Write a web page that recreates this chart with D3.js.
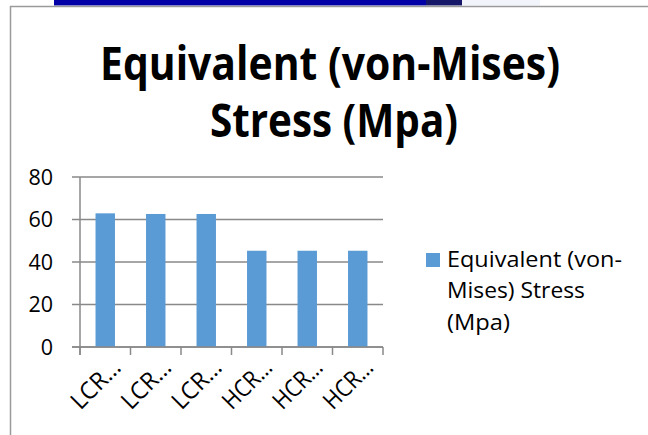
<!DOCTYPE html>
<html>
<head>
<meta charset="utf-8">
<script src="https://cdn.jsdelivr.net/npm/d3@7"></script>
<style>
  html, body { margin: 0; padding: 0; background: #fff; }
  svg { display: block; }
  text { font-family: "Open Sans", "Noto Sans", sans-serif; fill: #000; }
</style>
</head>
<body>
<svg id="chart" width="648" height="435"></svg>
<script>
// ---- data ----
const categories = ["LCR…", "LCR…", "LCR…", "HCR…", "HCR…", "HCR…"];
const stressValues = [62.9, 62.6, 62.6, 45.3, 45.3, 45.3];
const yTicks = [0, 20, 40, 60, 80];
const seriesName = "Equivalent (von-Mises) Stress (Mpa)";
const titleLines = ["Equivalent (von-Mises)", "Stress (Mpa)"];
const legendLines = ["Equivalent (von-", "Mises) Stress", "(Mpa)"];

const svg = d3.select("#chart");
const W = 648, H = 435;
const barColor = "#5B9BD5";
const gridColor = "#898989";

// decorative slide fragments at top
svg.append("rect").attr("x", 54).attr("y", 0).attr("width", 372).attr("height", 5.5).attr("fill", "#0000A6");
svg.append("rect").attr("x", 426).attr("y", 0).attr("width", 36).attr("height", 5.5).attr("fill", "#17176a");
svg.append("rect").attr("x", 462).attr("y", 0).attr("width", 78).attr("height", 5.5).attr("fill", "#f2f4fb");
// chart frame
svg.append("line").attr("x1", 10).attr("x2", W).attr("y1", 6.5).attr("y2", 6.5)
  .attr("stroke", "#9a9a9a").attr("stroke-width", 1.5);
svg.append("line").attr("x1", 10.5).attr("x2", 10.5).attr("y1", 6).attr("y2", H)
  .attr("stroke", "#9a9a9a").attr("stroke-width", 1.5);

// title
const titleG = svg.append("g");
const titlePos = [{x: 100, y: 80, len: 460}, {x: 210, y: 137, len: 248}];
titleLines.forEach((t, i) => {
  titleG.append("text")
    .attr("x", titlePos[i].x).attr("y", titlePos[i].y)
    .attr("font-size", 46).attr("font-weight", "bold")
    .attr("textLength", titlePos[i].len).attr("lengthAdjust", "spacingAndGlyphs")
    .text(t);
});

// scales
const plot = {left: 80, right: 383, top: 177, bottom: 347};
const x = d3.scaleBand().domain(d3.range(categories.length))
  .range([plot.left, plot.right]).paddingInner(0.615).paddingOuter(0.3075);
const xOuter = d3.scaleBand().domain(d3.range(categories.length))
  .range([plot.left, plot.right]);
const y = d3.scaleLinear().domain([0, 80]).range([plot.bottom, plot.top]);

// gridlines
svg.append("g").selectAll("line").data(yTicks).join("line")
  .attr("x1", plot.left - 8).attr("x2", plot.right)
  .attr("y1", d => y(d)).attr("y2", d => y(d))
  .attr("stroke", gridColor).attr("stroke-width", 1.5);

// y axis line
svg.append("line").attr("x1", plot.left).attr("x2", plot.left)
  .attr("y1", plot.top).attr("y2", plot.bottom + 8)
  .attr("stroke", gridColor).attr("stroke-width", 1.5);

// x tick marks at category boundaries
const boundaries = d3.range(categories.length + 1).map(i => i === categories.length ? xOuter.range()[1] : xOuter(i));
svg.append("g").selectAll("line").data(boundaries).join("line")
  .attr("x1", d => d).attr("x2", d => d)
  .attr("y1", plot.bottom).attr("y2", plot.bottom + 8)
  .attr("stroke", gridColor).attr("stroke-width", 1.5);

// bars
svg.append("g").selectAll("rect").data(stressValues).join("rect")
  .attr("x", (d, i) => x(i)).attr("width", x.bandwidth())
  .attr("y", d => y(d)).attr("height", d => y(0) - y(d))
  .attr("fill", barColor);

// x axis line on top
svg.append("line").attr("x1", plot.left - 8).attr("x2", plot.right)
  .attr("y1", plot.bottom).attr("y2", plot.bottom)
  .attr("stroke", gridColor).attr("stroke-width", 1.5);

// y tick labels
svg.append("g").selectAll("text").data(yTicks).join("text")
  .attr("x", 53).attr("y", d => y(d)).attr("dy", "0.36em")
  .attr("text-anchor", "end").attr("font-size", 21.5)
  .text(d => d);

// x labels rotated
svg.append("g").selectAll("text").data(categories).join("text")
  .attr("transform", (d, i) => `translate(${xOuter(i) + xOuter.bandwidth() / 2 + 17},${plot.bottom + 22}) rotate(-45)`)
  .attr("text-anchor", "end").attr("font-size", 24)
  .attr("textLength", 59).attr("lengthAdjust", "spacingAndGlyphs")
  .text(d => d);

// legend
const legend = svg.append("g").attr("aria-label", seriesName);
legend.append("rect").attr("x", 426).attr("y", 253).attr("width", 14).attr("height", 14).attr("fill", barColor);
const legendPos = [{y: 267, len: 175}, {y: 298, len: 138}, {y: 330, len: 63}];
legendLines.forEach((t, i) => {
  legend.append("text").attr("x", 447).attr("y", legendPos[i].y)
    .attr("font-size", 21)
    .attr("textLength", legendPos[i].len).attr("lengthAdjust", "spacingAndGlyphs")
    .text(t);
});
</script>
</body>
</html>
